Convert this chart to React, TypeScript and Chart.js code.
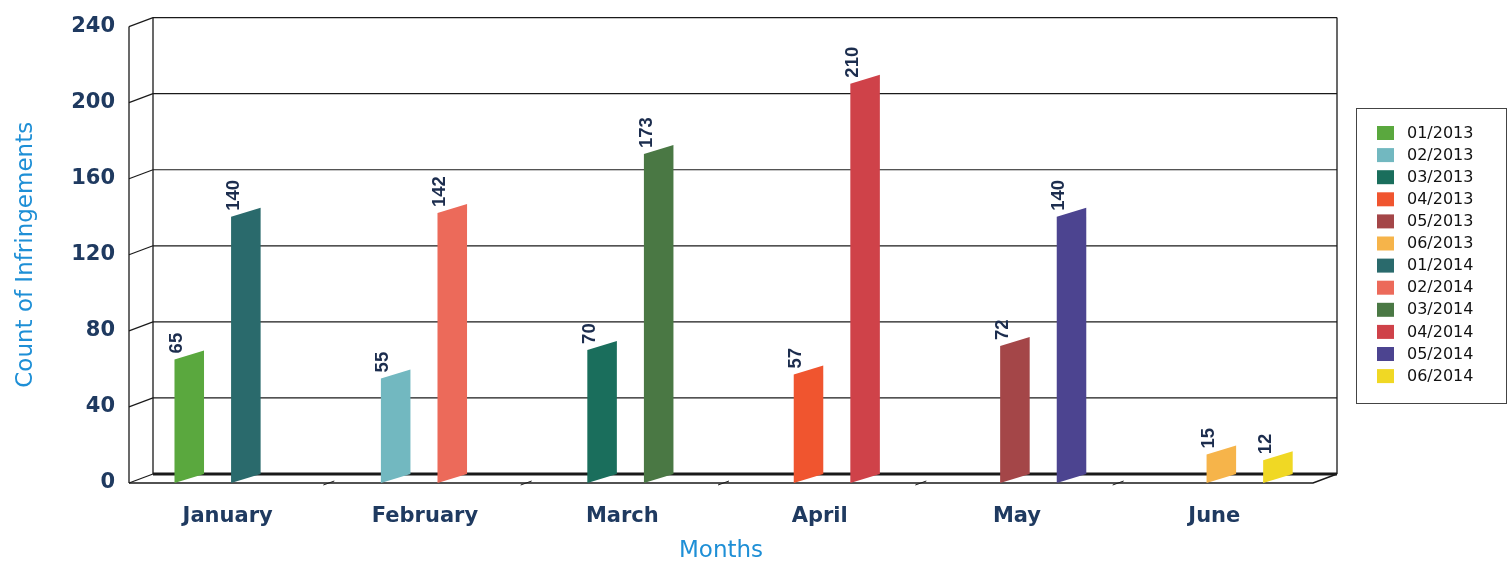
import React, { useEffect, useRef } from 'react';
import { Chart, registerables } from 'chart.js';

Chart.register(...registerables);

const months = ['January', 'February', 'March', 'April', 'May', 'June'];
const labels2013 = ['01/2013', '02/2013', '03/2013', '04/2013', '05/2013', '06/2013'];
const labels2014 = ['01/2014', '02/2014', '03/2014', '04/2014', '05/2014', '06/2014'];
const counts2013 = [65, 55, 70, 57, 72, 15];
const counts2014 = [140, 142, 173, 210, 140, 12];
const colors2013 = ['#5aa83e', '#72b8c0', '#1a6e5c', '#f0552f', '#a44648', '#f6b44a'];
const colors2014 = ['#2a6a6c', '#ec6a5a', '#4a7844', '#cf4249', '#4c4490', '#f0d824'];
const yTickStep = 40;
const yMax = 240;

const NAVY = '#1f3a60';
const BLUE = '#1e8fd6';
const DEPTH_X = 24;
const DEPTH_Y = -9;
const BAR_SKEW = 9;

const frame3d = {
  id: 'frame3d',
  beforeDatasetsDraw(chart: any) {
    const { ctx, chartArea } = chart;
    const { left: L, right: R, top: T, bottom: B } = chartArea;
    const ys = chart.scales.y;
    const xl = chart.scales.xl;
    ctx.save();
    ctx.strokeStyle = '#1a1a1a';
    ctx.lineCap = 'butt';
    ys.ticks.forEach((t: any) => {
      const y = ys.getPixelForValue(t.value);
      ctx.lineWidth = 1.2;
      ctx.beginPath();
      ctx.moveTo(L, y);
      ctx.lineTo(L + DEPTH_X, y + DEPTH_Y);
      ctx.stroke();
      ctx.lineWidth = t.value === 0 ? 3 : 1.2;
      ctx.beginPath();
      ctx.moveTo(L + DEPTH_X, y + DEPTH_Y);
      ctx.lineTo(R + DEPTH_X, y + DEPTH_Y);
      ctx.stroke();
    });
    ctx.lineWidth = 1.3;
    ctx.beginPath();
    ctx.moveTo(L + DEPTH_X, T + DEPTH_Y);
    ctx.lineTo(L + DEPTH_X, B + DEPTH_Y);
    ctx.moveTo(R + DEPTH_X, T + DEPTH_Y);
    ctx.lineTo(R + DEPTH_X, B + DEPTH_Y);
    ctx.stroke();
    ctx.beginPath();
    ctx.moveTo(L, T);
    ctx.lineTo(L, B);
    ctx.stroke();
    ctx.lineWidth = 1.5;
    ctx.beginPath();
    ctx.moveTo(L, B);
    ctx.lineTo(R, B);
    ctx.lineTo(R + DEPTH_X, B + DEPTH_Y);
    ctx.stroke();
    ctx.lineWidth = 1;
    const n = xl.ticks.length;
    for (let k = 1; k < n; k++) {
      const x = (xl.getPixelForTick(k - 1) + xl.getPixelForTick(k)) / 2;
      ctx.beginPath();
      ctx.moveTo(x - 3, B + 2);
      ctx.lineTo(x + 8, B - 2);
      ctx.stroke();
    }
    ctx.restore();
  },
  beforeDatasetDraw() {
    return false;
  },
  afterDatasetsDraw(chart: any) {
    const { ctx } = chart;
    ctx.save();
    chart.data.datasets.forEach((ds: any, di: number) => {
      const meta = chart.getDatasetMeta(di);
      meta.data.forEach((el: any, idx: number) => {
        const raw = ds.data[idx];
        if (!raw || raw.y === null || raw.y === undefined) return;
        const { x, y, base, width } = el.getProps(['x', 'y', 'base', 'width'], true);
        const l = x - width / 2;
        const r = x + width / 2;
        ctx.fillStyle = ds.backgroundColor;
        ctx.beginPath();
        ctx.moveTo(l, base);
        ctx.lineTo(l, y);
        ctx.lineTo(r, y - BAR_SKEW);
        ctx.lineTo(r, base - BAR_SKEW);
        ctx.closePath();
        ctx.fill();
        ctx.save();
        ctx.translate(l + 2.5, y - 6);
        ctx.rotate(-Math.PI / 2);
        ctx.fillStyle = '#1c2d4e';
        ctx.font = 'bold 18.5px "Liberation Sans", Arial, sans-serif';
        ctx.textAlign = 'left';
        ctx.textBaseline = 'middle';
        ctx.fillText(String(raw.y), 0, 0);
        ctx.restore();
      });
    });
    ctx.restore();
  },
  afterDraw(chart: any) {
    const { ctx } = chart;
    ctx.save();
    const bx = 1356.5, by = 108.5, bw = 150, bh = 295;
    ctx.strokeStyle = '#444';
    ctx.lineWidth = 1;
    ctx.strokeRect(bx, by, bw, bh);
    ctx.font = '16px "DejaVu Sans", sans-serif';
    ctx.textAlign = 'left';
    ctx.textBaseline = 'middle';
    chart.data.datasets.forEach((ds: any, i: number) => {
      const cy = 133 + i * 22.1;
      ctx.fillStyle = ds.backgroundColor;
      ctx.fillRect(1377, cy - 7, 17, 14);
      ctx.fillStyle = '#111';
      ctx.fillText(ds.label, 1407, cy + 0.5);
    });
    ctx.restore();
  },
};

function makeDatasets() {
  const build = (labels: string[], counts: number[], colors: string[]) =>
    labels.map((lab, i) => ({
      label: lab,
      data: months.map((_, j) => ({ x: j, y: j === i ? counts[i] : null })),
      backgroundColor: colors[i],
      skipNull: true,
      categoryPercentage: 0.745,
      barPercentage: 0.522,
    }));
  return [...build(labels2013, counts2013, colors2013), ...build(labels2014, counts2014, colors2014)];
}

export default function App() {
  const ref = useRef<HTMLCanvasElement | null>(null);
  useEffect(() => {
    document.body.style.margin = '0';
    const canvas = ref.current;
    if (!canvas) return;
    const chart = new Chart(canvas, {
      type: 'bar',
      data: { datasets: makeDatasets() as any },
      options: {
        animation: false,
        responsive: false,
        maintainAspectRatio: false,
        events: [],
        layout: { padding: { left: 0, right: 195, top: 19, bottom: 0 } },
        plugins: { legend: { display: false }, tooltip: { enabled: false } },
        scales: {
          x: {
            type: 'linear',
            display: false,
            offset: false,
            bounds: 'data',
            min: -0.429,
            max: 5.307,
            ticks: { stepSize: 1, includeBounds: false },
            grid: { display: false, offset: false },
          },
          xl: {
            type: 'category',
            labels: months,
            position: 'bottom',
            offset: true,
            grid: { display: false, drawTicks: false },
            border: { display: false },
            ticks: {
              padding: 21,
              color: NAVY,
              font: { family: '"DejaVu Sans", sans-serif', size: 21, weight: 'bold' },
            },
            title: {
              display: true,
              text: 'Months',
              color: BLUE,
              font: { family: '"DejaVu Sans", sans-serif', size: 23 },
              padding: { top: 0, bottom: 1 },
            },
            afterFit: (s: any) => {
              s.height = 83;
            },
          } as any,
          y: {
            min: 0,
            max: yMax,
            ticks: {
              stepSize: yTickStep,
              padding: 14,
              color: NAVY,
              font: { family: '"DejaVu Sans", sans-serif', size: 21, weight: 'bold' },
            },
            grid: { display: false, drawTicks: false },
            border: { display: false },
            title: {
              display: true,
              text: 'Count of Infringements',
              color: BLUE,
              font: { family: '"DejaVu Sans", sans-serif', size: 23 },
              padding: { top: 12, bottom: 0 },
            },
            afterFit: (s: any) => {
              s.width = 129;
            },
          },
        },
      },
      plugins: [frame3d],
    });
    return () => chart.destroy();
  }, []);
  return (
    <div style={{ position: 'fixed', left: 0, top: 0, width: 1508, height: 566, background: '#fff' }}>
      <canvas ref={ref} width={1508} height={566} style={{ width: 1508, height: 566, display: 'block' }} />
    </div>
  );
}
